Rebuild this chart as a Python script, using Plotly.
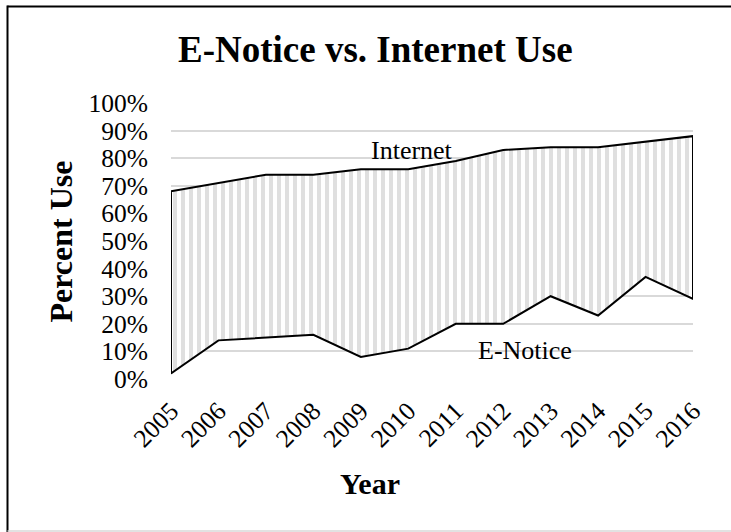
import plotly.graph_objects as go

years = [2005, 2006, 2007, 2008, 2009, 2010, 2011, 2012, 2013, 2014, 2015, 2016]
internet = [68, 71, 74, 74, 76, 76, 79, 83, 84, 84, 86, 88]
enotice = [2, 14, 15, 16, 8, 11, 20, 20, 30, 23, 37, 29]
y_ticks = [0, 10, 20, 30, 40, 50, 60, 70, 80, 90, 100]

FONT = "Liberation Serif, Times New Roman, serif"

# closed polygon: internet forward, e-notice backward
poly_x = years + years[::-1] + [years[0]]
poly_y = internet + enotice[::-1] + [internet[0]]

fig = go.Figure()
fig.add_trace(go.Scatter(
    x=poly_x, y=poly_y, mode="lines", fill="toself",
    line=dict(color="black", width=2),
    fillcolor="white",
    fillpattern=dict(shape="|", size=8, solidity=0.5, fgcolor="#bfbfbf", bgcolor="white"),
    hoverinfo="skip", showlegend=False,
))

# margins: plot area 171..693 x, 103..379 y
L, R, T, B = 171, 38, 103, 153
W, H = 731, 532
pw, ph = W - L - R, H - T - B

def px(X):
    return (X - L) / pw

def py(Y):
    return (H - B - Y) / ph

annotations = [
    dict(text="<b>E-Notice vs. Internet Use</b>", x=px(375), y=py(49.5), xref="paper", yref="paper",
         xanchor="center", yanchor="middle", showarrow=False, font=dict(family=FONT, size=37, color="black")),
    dict(text="<b>Percent Use</b>", x=px(60), y=py(241.5), xref="paper", yref="paper", textangle=-90,
         xanchor="center", yanchor="middle", showarrow=False, font=dict(family=FONT, size=32, color="black")),
    dict(text="<b>Year</b>", x=px(369.5), y=py(483.8), xref="paper", yref="paper",
         xanchor="center", yanchor="middle", showarrow=False, font=dict(family=FONT, size=30, color="black")),
    dict(text="Internet", x=2010.08, y=82.8, xref="x", yref="y",
         xanchor="center", yanchor="middle", showarrow=False, font=dict(family=FONT, size=26, color="black")),
    dict(text="E-Notice", x=2012.46, y=10.3, xref="x", yref="y",
         xanchor="center", yanchor="middle", showarrow=False, font=dict(family=FONT, size=26, color="black")),
]

shapes = [
    dict(type="line", xref="paper", yref="paper", x0=px(7.5), x1=px(735), y0=py(6.5), y1=py(6.5),
         line=dict(color="black", width=2)),
    dict(type="line", xref="paper", yref="paper", x0=px(7.5), x1=px(7.5), y0=py(5.5), y1=py(535),
         line=dict(color="black", width=2)),
    dict(type="line", xref="paper", yref="paper", x0=px(7.5), x1=px(735), y0=py(531), y1=py(531),
         line=dict(color="#d9d9d9", width=1.5)),
]

fig.update_layout(
    width=W, height=H,
    margin=dict(l=L, r=R, t=T, b=B, pad=0),
    paper_bgcolor="white", plot_bgcolor="white",
    font=dict(family=FONT, color="black"),
    annotations=annotations,
    shapes=shapes,
    showlegend=False,
    xaxis=dict(
        range=[2005, 2016], tickmode="array", tickvals=years, ticktext=[str(y) for y in years],
        tickangle=-45, tickfont=dict(family=FONT, size=25.5, color="black"),
        showgrid=False, zeroline=False, showline=False, ticks="", ticklabelstandoff=11,
    ),
    yaxis=dict(
        range=[0, 100], tickmode="array", tickvals=y_ticks, ticktext=[f"{v}%" for v in y_ticks],
        tickfont=dict(family=FONT, size=25.5, color="black"),
        showgrid=True, gridcolor="#d9d9d9", gridwidth=2, zeroline=False, showline=False,
        ticks="", ticklabelstandoff=22,
    ),
)

fig.write_html("out.html", config={"displayModeBar": False})
